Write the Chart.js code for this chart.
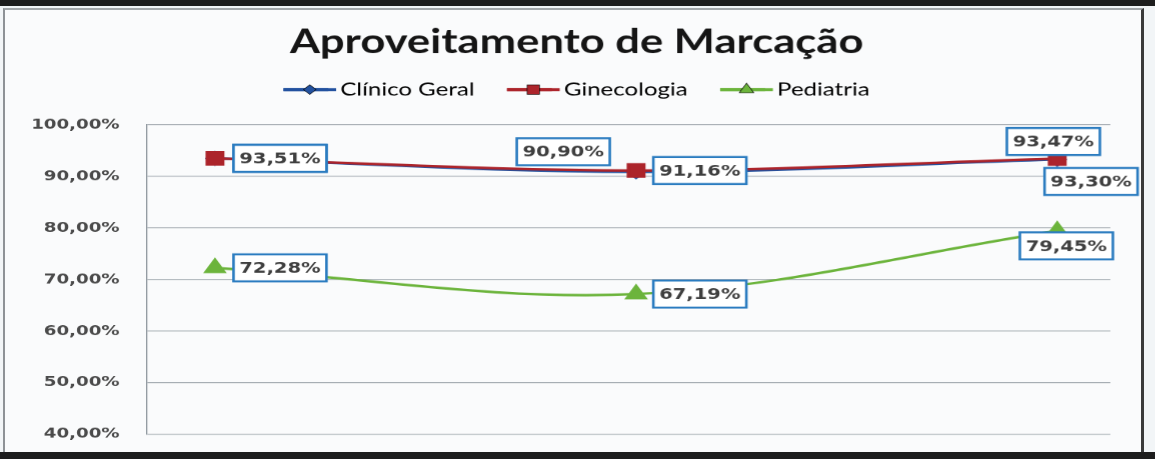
<!DOCTYPE html>
<html lang="pt">
<head>
<meta charset="utf-8">
<title>Aproveitamento de Marcação</title>
<script src="https://cdn.jsdelivr.net/npm/chart.js@4/dist/chart.umd.min.js"></script>
<style>
  html, body { margin: 0; padding: 0; }
  body { width: 1155px; height: 459px; background: #f2f5f7; position: relative; overflow: hidden; }
  .band-top { position: absolute; left: 0; top: 0; width: 1155px; height: 6px; background: #1d1d1d; }
  .band-bottom { position: absolute; left: 0; top: 452px; width: 1155px; height: 7px; background: #1d1d1d; z-index: 2; }
  .frame {
    position: absolute; left: 3px; top: 8px; width: 1141px; height: 444px; box-sizing: border-box;
    border-left: 2px solid #8e9296; border-top: 2px solid #a3a7aa; border-right: 3px solid #3a3a3a;
    background: #fafbfc;
  }
  /* the scanned original is stretched sideways, so the chart is drawn narrow and widened */
  #wrap { position: absolute; left: 0; top: 0; width: 888px; height: 463px; transform: scaleX(1.3); transform-origin: 0 0; }
</style>
</head>
<body>
<div class="band-top"></div>
<div class="frame"></div>
<div id="wrap"><canvas id="chart"></canvas></div>
<div class="band-bottom"></div>

<script>
/* =========================
   DATA
========================= */
const categories = ["", "", ""];
const clinicoGeral = [93.51, 90.90, 93.30];
const ginecologia = [93.51, 91.16, 93.47];
const pediatria = [72.28, 67.19, 79.45];
const yTicks = [40, 50, 60, 70, 80, 90, 100];

/* =========================
   STYLE
========================= */
const BLUE = "#22519f";
const RED = "#ac242b";
const GREEN = "#6cb43c";

// where each value box sits, relative to its point
const labelOffsets = {
  "Clínico Geral": [[50, 0], [-56, -20], [26, 22]],
  "Ginecologia": [[50, 0], [49, 0], [-3, -17]],
  "Pediatria": [[50, 0], [49, 0], [7, 15]]
};

function pct(v) {
  return v.toFixed(2).replace(".", ",") + "%";
}

function points(values) {
  return values.map((v, i) => ({ x: i, y: v }));
}

/* =========================
   PLUGINS
========================= */
const valueBoxes = {
  id: "valueBoxes",
  afterDatasetsDraw(chart) {
    const ctx = chart.ctx;
    ctx.save();
    ctx.font = "bold 15px 'DejaVu Sans'";
    ctx.textAlign = "center";
    ctx.textBaseline = "middle";
    chart.data.datasets.forEach((ds, d) => {
      const meta = chart.getDatasetMeta(d);
      const offs = labelOffsets[ds.label];
      meta.data.forEach((pt, i) => {
        const cx = pt.x + offs[i][0];
        const cy = pt.y + offs[i][1];
        const w = 71.5, h = 27;
        ctx.fillStyle = "#ffffff";
        ctx.fillRect(cx - w / 2, cy - h / 2, w, h);
        ctx.lineWidth = 2;
        ctx.strokeStyle = "#2b7cc0";
        ctx.strokeRect(cx - w / 2, cy - h / 2, w, h);
        ctx.fillStyle = "#3f3f3f";
        ctx.fillText(pct(ds.data[i].y), cx, cy + 1);
      });
    });
    ctx.restore();
  }
};

// line + marker legend like the spreadsheet one
const legendMarkers = {
  id: "legendMarkers",
  beforeInit(chart) {
    const fit = chart.legend.fit;
    chart.legend.fit = function () {
      fit.bind(chart.legend)();
      this.height += 16;
    };
  },
  afterDraw(chart) {
    const c = chart.ctx;
    chart.legend.legendHitBoxes.forEach((hb, i) => {
      const ds = chart.data.datasets[i];
      const midY = hb.top + hb.height / 2;
      c.save();
      c.fillStyle = ds.borderColor;
      c.fillRect(hb.left, midY - 1.5, 40.5, 3);
      Chart.helpers.drawPoint(c, {
        pointStyle: ds.pointStyle,
        radius: ds.pointRadius * 0.75,
        rotation: 0,
        borderWidth: 1
      }, hb.left + 20.25, midY);
      c.fillStyle = ds.pointBackgroundColor;
      c.strokeStyle = ds.pointBorderColor;
      c.fill();
      c.restore();
    });
  }
};

/* =========================
   CHART
========================= */
const ctx = document.getElementById("chart");

new Chart(ctx, {
  type: "line",
  data: {
    labels: categories,
    datasets: [
      {
        label: "Clínico Geral",
        data: points(clinicoGeral),
        borderColor: BLUE,
        backgroundColor: BLUE,
        pointBackgroundColor: BLUE,
        pointBorderColor: BLUE,
        pointStyle: "rectRot",
        pointRadius: 6,
        borderWidth: 2.5,
        tension: 0.35,
        order: 3
      },
      {
        label: "Ginecologia",
        data: points(ginecologia),
        borderColor: RED,
        backgroundColor: RED,
        pointBackgroundColor: RED,
        pointBorderColor: RED,
        pointStyle: "rect",
        pointRadius: 8.5,
        borderWidth: 2.5,
        tension: 0.35,
        order: 2
      },
      {
        label: "Pediatria",
        data: points(pediatria),
        borderColor: GREEN,
        backgroundColor: GREEN,
        pointBackgroundColor: GREEN,
        pointBorderColor: GREEN,
        pointStyle: "triangle",
        pointRadius: 8,
        borderWidth: 2.5,
        tension: 0.35,
        order: 1
      }
    ]
  },
  options: {
    responsive: true,
    maintainAspectRatio: false,
    animation: false,
    devicePixelRatio: 1.3,
    layout: { padding: { left: 7, right: 8.2, top: 0, bottom: 16 } },
    plugins: {
      tooltip: { enabled: false },
      title: {
        display: true,
        text: "Aproveitamento de Marcação",
        color: "#151515",
        font: { family: "Lato", size: 33.5, weight: "bold" },
        padding: { top: 22, bottom: -7 }
      },
      legend: {
        display: true,
        labels: {
          color: "#3d3d3d",
          font: { family: "Lato", size: 18.5 },
          boxWidth: 34.5,
          boxHeight: 3,
          padding: 25,
          generateLabels(chart) {
            return chart.data.datasets.map((ds, i) => ({
              text: ds.label,
              fillStyle: ds.borderColor,
              strokeStyle: ds.borderColor,
              lineWidth: 0,
              datasetIndex: i
            }));
          }
        }
      }
    },
    scales: {
      x: {
        type: "linear",
        display: false,
        min: -0.1615,
        max: 2.126
      },
      y: {
        min: 40,
        max: 100,
        afterFit(scale) { scale.width = 106; },
        afterBuildTicks(scale) { scale.ticks = yTicks.map(v => ({ value: v })); },
        ticks: {
          padding: 21,
          color: "#4a4a4a",
          font: { family: "DejaVu Sans", size: 14, weight: "bold" },
          callback: v => pct(v)
        },
        grid: { color: "#a7aeb4", drawTicks: false },
        border: { display: true, color: "#8d969d" }
      },
      // empty strip on the right so title and legend centre like the original
      yRight: {
        position: "right",
        min: 40,
        max: 100,
        afterFit(scale) { scale.width = 26; },
        ticks: { display: false },
        grid: { display: false },
        border: { display: false }
      }
    }
  },
  plugins: [valueBoxes, legendMarkers]
});
</script>
</body>
</html>
